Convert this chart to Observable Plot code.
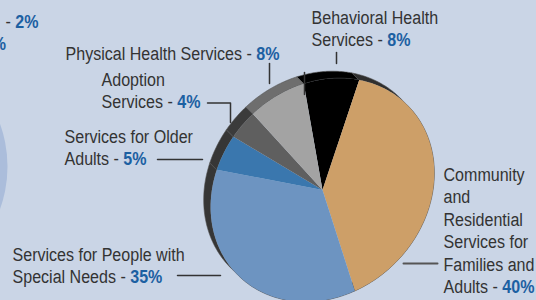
<!DOCTYPE html>
<html><head><meta charset="utf-8">
<script src="https://cdn.jsdelivr.net/npm/d3@7"></script>
<script src="https://cdn.jsdelivr.net/npm/@observablehq/plot@0.6"></script>
<style>
html,body{margin:0;padding:0;background:#cad5e6;overflow:hidden}
#chart svg{display:block}
</style></head><body><div id="chart"></div>
<script>
// ---- data ----
const categories = ["Behavioral Health Services", "Community and Residential Services for Families and Adults", "Services for People with Special Needs", "Services for Older Adults", "Adoption Services", "Physical Health Services"];
const values = [8, 40, 35, 5, 4, 8];
const labelLines = [["Behavioral Health", "Services"], ["Community", "and", "Residential", "Services for", "Families and", "Adults"], ["Services for People with", "Special Needs"], ["Services for Older", "Adults"], ["Adoption", "Services"], ["Physical Health Services"]];
const fragmentTexts = ["- 2%", "%"];
// ---- styles ----
const sliceColors = ["#000000", "#cd9f68", "#6d94c1", "#3a77ae", "#5f5f5f", "#a3a3a3"];
const rimColors = ["#000000", "#2f2f2f", "#363636", "#363636", "#3b3b3b", "#6e6e6e"];
const textColor = "#333333", pctColor = "#1c60a2";
const fontSize = 19, narrow = 0.845;
// ---- layout ----
const W = 536, H = 300;
const pie = {cx: 322, cy: 189.5, a: 120, b: 103, start: -59, depthX: -7, depthY: -7};
const labelPos = [[311, 23], [443, 180], [12, 260], [64, 142], [101, 85], [65, 59]];
const lineGap = 22.5;
const fragmentPos = [[38, 27], [5.5, 49]];
const otherPie = {x: -119, y: 166, r: 126};
const leaders = [
  [[336, 52], [336, 63]],
  [[304, 72], [304, 94]],
  [[269, 63], [269, 83]],
  [[207, 102.5], [230, 102.5], [230, 122]],
  [[157, 159], [202, 159]],
  [[177, 275], [220, 275]],
  [[403, 263], [437, 263]]
];

const total = d3.sum(values);
const P = (deg, dx = 0, dy = 0) => {
  const t = deg * Math.PI / 180;
  const c = Math.cos(t) * pie.a, s = Math.sin(t) * pie.b;
  return {x: pie.cx + (c + s) / Math.SQRT2 + dx, y: pie.cy + (-c + s) / Math.SQRT2 + dy};
};
let acc = pie.start;
const faces = [], rims = [];
values.forEach((v, i) => {
  const a0 = acc, a1 = acc + v / total * 360; acc = a1;
  const n = Math.max(2, Math.ceil((a1 - a0) * 2));
  const arc = d3.range(n + 1).map(k => a0 + (a1 - a0) * k / n);
  faces.push([{x: pie.cx, y: pie.cy}, ...arc.map(d => P(d))]);
  rims.push([...arc.map(d => P(d)), ...arc.slice().reverse().map(d => P(d, pie.depthX, pie.depthY))]);
});

const textRows = [];
labelLines.forEach((lines, i) => {
  lines.forEach((ln, j) => {
    const t = j === lines.length - 1 ? `${ln} - ${values[i]}%` : ln;
    textRows.push({x: labelPos[i][0], y: labelPos[i][1] + j * lineGap, text: t});
  });
});
const fragRows = fragmentTexts.map((t, i) => ({x: fragmentPos[i][0], y: fragmentPos[i][1], text: t}));

const marks = [
  Plot.dot([otherPie], {x: "x", y: "y", r: otherPie.r, fill: "#abbddb", stroke: "none"}),
  ...rims.map((pts, i) => Plot.line(pts, {x: "x", y: "y", fill: rimColors[i], stroke: "#505050", strokeWidth: 0.6, curve: "linear-closed"})),
  ...faces.map((pts, i) => Plot.line(pts, {x: "x", y: "y", fill: sliceColors[i], stroke: "none", curve: "linear-closed"})),
  ...leaders.map((pts, i) => Plot.line(pts.map(p => ({x: p[0], y: p[1]})), {x: "x", y: "y", stroke: i === 6 ? "#555" : "#333", strokeWidth: i === 6 ? 2 : 1.5})),
  Plot.text(textRows, {x: "x", y: "y", text: "text", textAnchor: "start", lineAnchor: "bottom", fontSize, fill: textColor}),
  Plot.text(fragRows, {x: "x", y: "y", text: "text", textAnchor: "end", lineAnchor: "bottom", fontSize, fill: textColor})
];

const svg = Plot.plot({
  width: W, height: H,
  marginTop: 0, marginRight: 0, marginBottom: 0, marginLeft: 0,
  x: {domain: [0, W], range: [0, W], axis: null},
  y: {domain: [0, H], range: [0, H], axis: null},
  style: {background: "#cad5e6", fontFamily: "'Liberation Sans', Arial, sans-serif", overflow: "hidden"},
  marks
});
svg.querySelectorAll("text").forEach(el => {
  const m = el.textContent.match(/^(.*?)(\d*%)$/);
  if (m) {
    el.textContent = m[1];
    const ts = document.createElementNS("http://www.w3.org/2000/svg", "tspan");
    ts.setAttribute("fill", pctColor);
    ts.setAttribute("font-weight", "bold");
    ts.textContent = m[2];
    el.appendChild(ts);
  }
  // condensed look: compress horizontally around the anchor point
  const x = +el.getAttribute("x") || 0, y = +el.getAttribute("y") || 0;
  const prev = el.getAttribute("transform") || "";
  el.setAttribute("transform", `${prev} translate(${x},${y}) scale(${narrow},1) translate(${-x},${-y})`);
});
document.getElementById("chart").appendChild(svg);
</script></body></html>
